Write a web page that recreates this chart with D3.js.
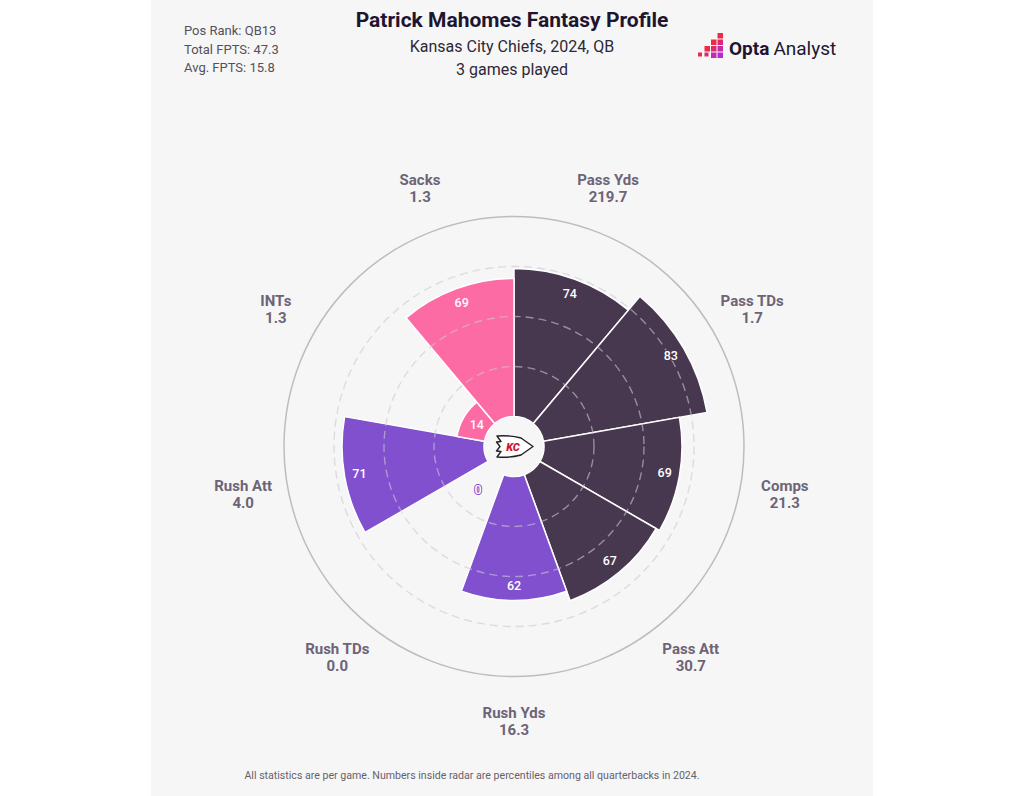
<!DOCTYPE html>
<html>
<head>
<meta charset="utf-8">
<script src="https://cdn.jsdelivr.net/npm/d3@7"></script>
<style>
  html, body { margin: 0; padding: 0; background: #ffffff; }
  svg { display: block; font-family: Roboto, "Noto Sans", sans-serif; }
</style>
</head>
<body>
<svg id="chart" width="1024" height="796"></svg>
<script>
// ---- data ----
const categories = ["Pass Yds", "Pass TDs", "Comps", "Pass Att", "Rush Yds", "Rush TDs", "Rush Att", "INTs", "Sacks"];
const statValues = ["219.7", "1.7", "21.3", "30.7", "16.3", "0.0", "4.0", "1.3", "1.3"];
const percentiles = [74, 83, 69, 67, 62, 0, 71, 14, 69];
const groups = ["pass", "pass", "pass", "pass", "rush", "rush", "rush", "neg", "neg"];
const gridTicks = [25, 50, 75];
const infoLines = ["Pos Rank: QB13", "Total FPTS: 47.3", "Avg. FPTS: 15.8"];
const titleText = "Patrick Mahomes Fantasy Profile";
const subtitleLines = ["Kansas City Chiefs, 2024, QB", "3 games played"];
const footnote = "All statistics are per game. Numbers inside radar are percentiles among all quarterbacks in 2024.";

const groupColor = d3.scaleOrdinal()
  .domain(["pass", "rush", "neg"])
  .range(["#47374f", "#8150cf", "#fc6ba4"]);

const svg = d3.select("#chart");
const W = 1024, H = 796;
const cx = 514, cy = 446.5;

// panel background
svg.append("rect").attr("x", 151).attr("y", 0).attr("width", 722).attr("height", H).attr("fill", "#f6f6f6");

const angle = d3.scaleBand().domain(categories).range([0, 2 * Math.PI]).padding(0);
const r = d3.scaleLinear().domain([0, 100]).range([30, 230]);

const g = svg.append("g").attr("transform", `translate(${cx},${cy})`);

const rows = categories.map((c, i) => ({
  cat: c, stat: statValues[i], pct: percentiles[i], group: groups[i]
}));

const arc = d3.arc()
  .innerRadius(r(0))
  .outerRadius(d => r(d.pct))
  .startAngle(d => angle(d.cat))
  .endAngle(d => angle(d.cat) + angle.bandwidth());

// bars
g.selectAll("path.bar").data(rows.filter(d => d.pct > 0)).join("path")
  .attr("class", "bar")
  .attr("d", arc)
  .attr("fill", d => groupColor(d.group))
  .attr("stroke", "#ffffff")
  .attr("stroke-width", 1.5)
  .attr("stroke-linejoin", "miter");

// dashed grid circles (on top of bars)
g.selectAll("circle.grid").data(gridTicks).join("circle")
  .attr("class", "grid")
  .attr("r", d => r(d))
  .attr("fill", "none")
  .attr("stroke", "rgba(205,200,210,0.6)")
  .attr("stroke-width", 1.4)
  .attr("stroke-dasharray", "8,5");

// outer solid ring
g.append("circle").attr("r", r(100)).attr("fill", "none")
  .attr("stroke", "#bdbdbd").attr("stroke-width", 1.5);

// hole
g.append("circle").attr("r", r(0) - 0.5).attr("fill", "#f6f6f6");

// percentile labels
g.selectAll("text.pct").data(rows).join("text")
  .attr("class", "pct")
  .each(function (d) {
    const a = angle(d.cat) + angle.bandwidth() / 2;
    const rr = d.pct < 10 ? r(d.pct) + 26 : r(d.pct) - 15;
    d3.select(this)
      .attr("x", rr * Math.sin(a))
      .attr("y", -rr * Math.cos(a))
      .attr("dy", "0.35em");
  })
  .attr("text-anchor", "middle")
  .attr("font-size", 12.5)
  .attr("font-weight", 500)
  .attr("fill", "#ffffff")
  .attr("stroke", d => groupColor(d.group))
  .attr("stroke-width", 2)
  .attr("paint-order", "stroke")
  .text(d => d.pct);

// category labels
const labelR = 275;
const lab = g.selectAll("text.cat").data(rows).join("text")
  .attr("class", "cat")
  .attr("text-anchor", "middle")
  .attr("font-size", 15)
  .attr("font-weight", 700)
  .attr("fill", "#6d6477");
lab.each(function (d) {
  const a = angle(d.cat) + angle.bandwidth() / 2;
  const x = labelR * Math.sin(a), y = -labelR * Math.cos(a);
  const t = d3.select(this);
  t.append("tspan").attr("x", x).attr("y", y - 3.5).text(d.cat);
  t.append("tspan").attr("x", x).attr("y", y + 13.5).text(d.stat);
});

// Chiefs-style logo in centre
const logo = g.append("g");
logo.append("path")
  .attr("d", "M19,0 L7,-8.5 Q-4,-11.5 -17,-10.5 L-13,-5 L-17.5,-4.5 L-14,0 L-17.5,4.5 L-13,5 L-17,10.5 Q-4,11.5 7,8.5 Z")
  .attr("fill", "#ffffff").attr("stroke", "#222222").attr("stroke-width", 1.4).attr("stroke-linejoin", "round");
logo.append("text").attr("x", -1).attr("y", 4).attr("text-anchor", "middle")
  .attr("font-size", 11).attr("font-weight", 900).attr("font-style", "italic")
  .attr("fill", "#d3122f").text("KC");

// title & subtitles
svg.append("text").attr("x", 512).attr("y", 27).attr("text-anchor", "middle")
  .attr("font-size", 21).attr("font-weight", 700).attr("fill", "#1e1530").text(titleText);
svg.selectAll("text.sub").data(subtitleLines).join("text").attr("class", "sub")
  .attr("x", 512).attr("y", (d, i) => 51.5 + i * 23).attr("text-anchor", "middle")
  .attr("font-size", 16).attr("fill", "#2e2838").text(d => d);

// info lines top-left
svg.selectAll("text.info").data(infoLines).join("text").attr("class", "info")
  .attr("x", 184).attr("y", (d, i) => 35 + i * 18.5)
  .attr("font-size", 13).attr("fill", "#55505c").text(d => d);

// footnote
svg.append("text").attr("x", 472).attr("y", 779).attr("text-anchor", "middle")
  .attr("font-size", 10.6).attr("fill", "#66616c").text(footnote);

// Opta Analyst logo
const ol = svg.append("g").attr("transform", "translate(698,33)");
const sq = 5.5, step = 6.5;
const squareCells = [];
for (let c = 0; c < 4; c++) {
  for (let rr = 3 - c; rr < 4; rr++) squareCells.push({ c, rr });
}
const sqColor = d3.scaleLinear().domain([0, 3]).range(["#ee2a44", "#b32ad6"]);
ol.selectAll("rect").data(squareCells).join("rect")
  .attr("x", d => d.c * step).attr("y", d => d.rr * step)
  .attr("width", d => (d.rr === 3 && d.c < 2) ? sq - 1.5 : sq)
  .attr("height", d => (d.rr === 3 && d.c < 2) ? sq - 1.5 : sq)
  .attr("fill", d => sqColor(d.rr - (3 - d.c)));
const ot = svg.append("text").attr("x", 729).attr("y", 55).attr("font-size", 19).attr("fill", "#1e1530");
ot.append("tspan").attr("font-weight", 700).text("Opta");
ot.append("tspan").attr("font-weight", 400).attr("dx", 4).text("Analyst");
</script>
</body>
</html>
